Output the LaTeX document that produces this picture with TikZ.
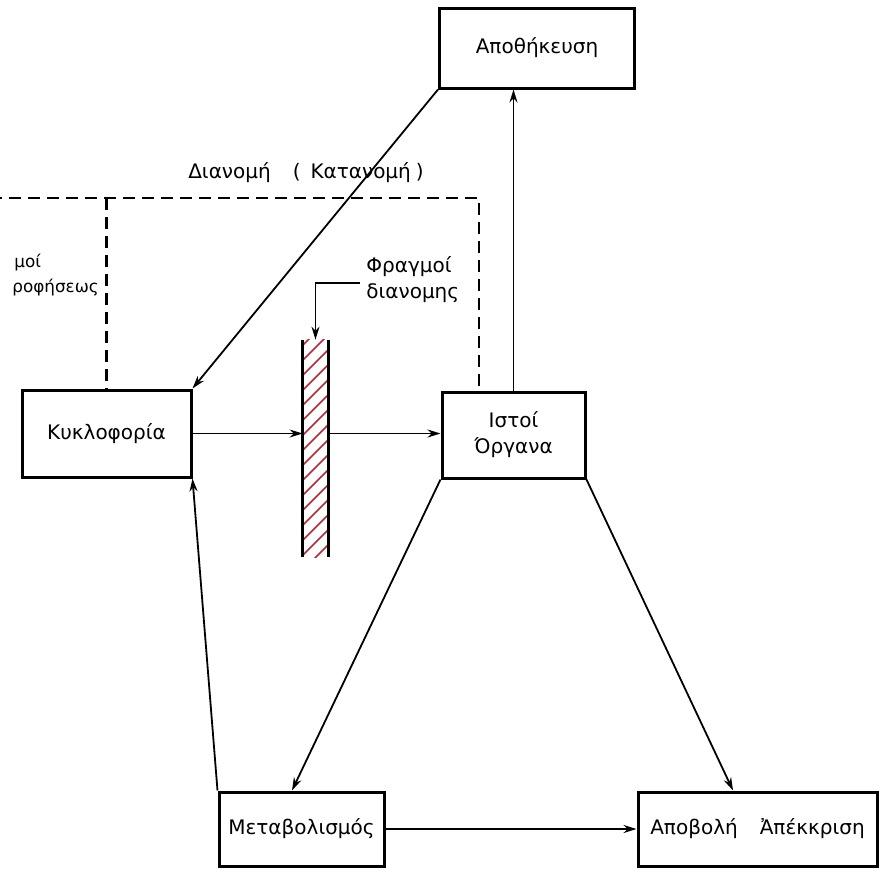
\documentclass[tikz,border=0pt]{standalone}
\usepackage{fontspec}
\setmainfont{DejaVu Sans}
\usetikzlibrary{arrows.meta,calc}
\definecolor{hatchred}{RGB}{185,40,55}
\begin{document}
\begin{tikzpicture}[x=0.5pt,y=-0.5pt,
  box/.style={draw=black,line width=1.5pt,fill=white,inner sep=0pt,align=center,font=\fontsize{10}{13}\selectfont},
  lbl/.style={inner sep=0pt,font=\fontsize{10}{13}\selectfont},
  part/.style={inner sep=0pt,font=\fontsize{8.4}{10}\selectfont},
  conn/.style={line width=0.9pt,-{Stealth[length=6.5pt,width=4pt]}},
  dash line/.style={line width=1.1pt,dash pattern=on 6pt off 3.5pt}]
\useasboundingbox (0,0) rectangle (879,869);
\clip (0,0) rectangle (879,869);
\fill[white] (0,0) rectangle (879,869);
% dashed distribution lines
\coordinate (dl) at (-10,198);
\coordinate (dr) at (479,198);
\coordinate (dk) at (106.5,198);
% boxes
\node[box,minimum width=97.5pt,minimum height=40pt] (apo) at (537,48) {Αποθήκευση};
\node[box,minimum width=84.5pt,minimum height=43.5pt] (kyk) at (106.5,433.5) {Κυκλοφορία};
\node[box,minimum width=71.5pt,minimum height=43pt] (ist) at (513.5,435) {Ιστοί\\Όργανα};
\node[box,minimum width=82.5pt,minimum height=37pt] (met) at (301.5,829) {Μεταβολισμός};
\node[box,minimum width=119.5pt,minimum height=37pt] (apob) at (757.5,829) {Αποβολή\hspace{1.1em}Ἀπέκκριση};
% barrier
\node[inner sep=0pt,minimum width=12.5pt,minimum height=108.5pt] (bar) at (315.5,448.5) {};
\begin{scope}
  \clip (bar.south west) rectangle (bar.north east);
  \foreach \k in {0,...,18} {
    \draw[hatchred,line width=0.75pt] (303,{345+15*\k}) -- (328,{320+15*\k});
  }
\end{scope}
\draw[line width=1.3pt] (bar.north west) -- (bar.south west);
\draw[line width=1.3pt] (bar.north east) -- (bar.south east);
% dashed lines
\draw[dash line] (dl) -- (dr) -- (dr |- ist.north);
\draw[dash line] (dk) -- (kyk.north);
% labels
\node[lbl] (dian) at (306,173) {Διανομή\hspace{1.1em}(\hspace{0.5em}Κατανομή\hspace{0.25em})};
\node[lbl,align=left,anchor=west] (fdian) at (366,280) {Φραγμοί\\διανομης};
\node[part,anchor=west] (fap1) at (14,263) {μοί};
\node[part,anchor=west] (fap2) at (12,288) {ροφήσεως};
% connectors
\coordinate (cb) at (360,283);
\draw[conn] (cb) -| (bar.north);
\draw[conn] (apo.south west) -- (kyk.north east);
\draw[conn] (ist.north) -- (ist.north |- apo.south);
\draw[conn] (kyk.east) -- (kyk.east -| bar.west);
\draw[conn] (bar.east |- kyk.east) -- (ist.west |- kyk.east);
\draw[conn] (ist.south west) -- ([xshift=-4.75pt]met.north);
\draw[conn] (ist.south east) -- ([xshift=-12.25pt]apob.north);
\draw[conn] (met.north west) -- (kyk.south east);
\draw[conn] (met.east) -- (apob.west);
\end{tikzpicture}
\end{document}
